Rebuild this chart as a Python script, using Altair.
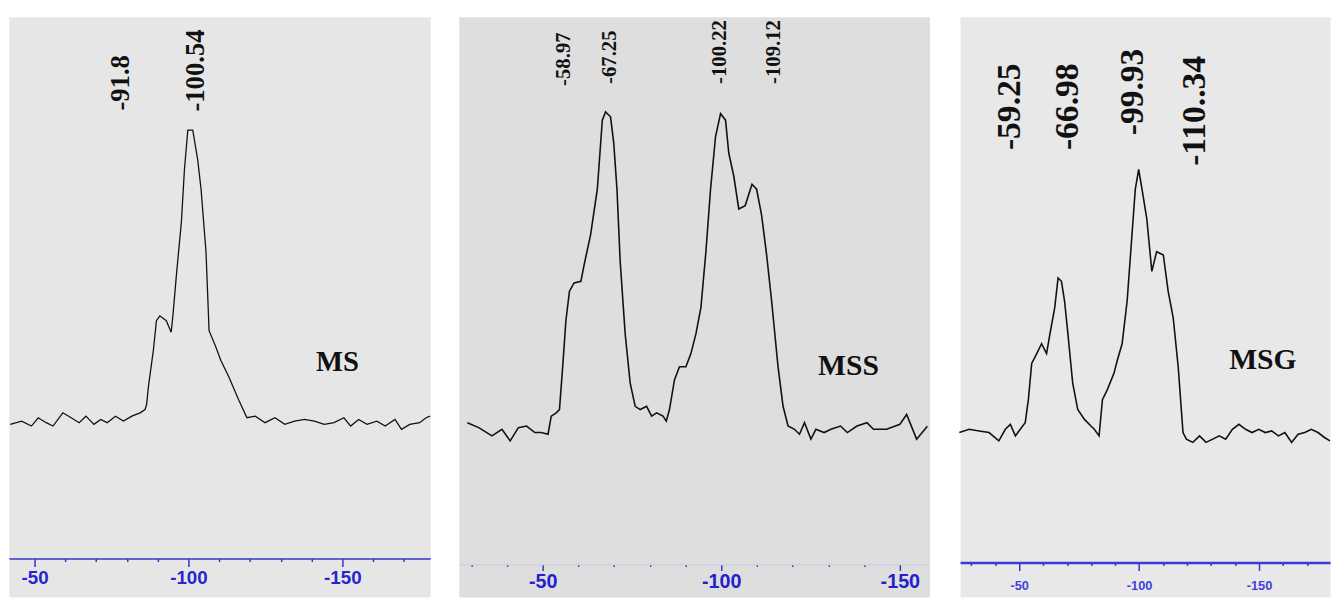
import altair as alt
import pandas as pd

# ---------------- Panel 1 : MS ----------------
ms_shift = [-42.1, -45.8, -49.0, -51.2, -53.8, -56.0, -59.2, -61.9, -64.5, -66.7, -69.3, -71.5,
            -73.6, -76.3, -78.9, -81.6, -84.3, -85.9, -86.4, -87.0, -88.6, -89.6, -90.7, -92.8,
            -94.4, -95.0, -96.1, -97.7, -98.7, -99.8, -101.4, -103.0, -104.1, -105.7, -106.7,
            -108.9, -110.5, -113.1, -116.3, -119.0, -121.7, -124.9, -128.1, -131.3, -134.5,
            -137.7, -140.9, -144.1, -147.3, -150.5, -152.7, -155.3, -158.0, -161.2, -163.9,
            -167.1, -169.2, -171.9, -175.1, -177.2, -178.5]
ms_int = [175, 178.3, 173.3, 181.7, 176.7, 173.3, 186.7, 181.7, 176.7, 183.3, 175, 180,
          176.7, 183.3, 178.3, 183.3, 186.7, 190, 195, 213.3, 250, 280, 285, 280,
          268.3, 286.7, 326.7, 380, 433.3, 473.3, 473.3, 443.3, 413.3, 350, 270,
          253.3, 240, 223.3, 200, 181.7, 183.3, 176.7, 181.7, 175, 178.3,
          180, 178.3, 175, 176.7, 181.7, 173.3, 180, 175, 178.3, 173.3,
          180, 170, 175, 176.7, 181.7, 183.3]
ms_peak_text = ["-91.8", "-100.54"]
ms_peak_x = [-78.2, -102.6]
ms_peak_y = [493, 492]

# ---------------- Panel 2 : MSS ----------------
mss_shift = [-28.9, -32.1, -35.8, -38.6, -40.9, -43.2, -45.5, -47.8, -49.6, -51.5, -52.4, -53.8,
             -54.7, -55.6, -56.5, -57.5, -58.8, -60.7, -61.6, -63.4, -65.3, -66.7, -67.6, -69.0,
             -69.9, -70.8, -71.7, -73.1, -74.5, -75.9, -77.3, -79.1, -80.5, -81.9, -83.7, -84.6,
             -85.5, -86.9, -88.3, -90.1, -91.5, -92.9, -94.3, -95.7, -97.0, -98.4, -99.8, -101.2,
             -102.1, -103.5, -104.9, -106.7, -108.6, -109.9, -111.3, -112.7, -114.1, -115.9,
             -117.3, -118.7, -120.5, -121.9, -123.3, -125.1, -126.5, -128.8, -130.7, -133.4,
             -135.3, -138.0, -140.8, -142.6, -146.3, -150.0, -151.9, -154.7, -157.7]
mss_int = [176.7, 171.7, 163.3, 170, 158.3, 171.7, 173.3, 166.7, 166.7, 165, 183.3, 186.7,
           190, 233.3, 280, 310, 318.3, 320, 336.7, 366.7, 413.3, 483.3, 491.7, 486.7,
           460, 413.3, 340, 266.7, 216.7, 193.3, 190, 193.3, 183.3, 186.7, 183.3, 178.3,
           190, 220, 233.3, 233.3, 246.7, 266.7, 293.3, 350, 413.3, 466.7, 490, 483.3,
           450, 426.7, 393.3, 396.7, 418.3, 413.3, 386.7, 346.7, 300, 233.3,
           193.3, 173.3, 170, 165, 176.7, 160, 170, 166.7, 170, 173.3,
           166.7, 173.3, 176.7, 170, 170, 175, 185, 160, 173]
mss_peak_text = ["-58.97", "-67.25", "-100.22", "-109.12"]
mss_peak_x = [-56.1, -68.8, -99.7, -114.9]
mss_peak_y = [518, 520, 520, 520]

# ---------------- Panel 3 : MSG ----------------
msg_shift = [-25.0, -29.1, -33.3, -37.4, -41.5, -44.2, -46.3, -48.4, -50.4, -52.5,
             -53.8, -55.2, -57.3, -59.3, -61.4, -62.8, -64.8, -66.2, -67.6, -68.9,
             -70.3, -72.3, -74.4, -77.2, -79.9, -81.3, -83.3, -84.7, -86.7, -89.5,
             -90.9, -92.9, -95.0, -97.0, -98.4, -99.8, -101.2, -103.2, -105.3, -107.3,
             -110.1, -112.1, -114.2, -116.3, -118.3, -119.7, -122.4, -125.2, -127.9, -130.7,
             -133.4, -136.1, -138.9, -141.6, -144.4, -147.1, -149.9, -152.6, -155.3, -158.1,
             -160.8, -163.6, -166.3, -169.1, -171.8, -174.6, -177.3, -179.6]
msg_int = [166.7, 170, 168.3, 166.7, 158.3, 170, 175, 163.3, 170, 176.7,
           200, 236.7, 246.7, 256.7, 246.7, 266.7, 293.3, 323.3, 320, 300,
           266.7, 216.7, 190, 180, 173.3, 170, 163.3, 200, 210, 226.7,
           240, 256.7, 300, 366.7, 413.3, 433.3, 413.3, 383.3, 330, 350,
           346.7, 310, 283.3, 233.3, 166.7, 160, 156.7, 163.3, 156.7, 160,
           163.3, 160, 170, 175, 170, 166.7, 170, 166.7, 168.3, 163.3,
           166.7, 156.7, 165, 166.7, 170, 166.7, 161.7, 158.3]
msg_peak_text = ["-59.25", "-66.98", "-99.93", "-110..34"]
msg_peak_x = [-46.3, -70.2, -97.7, -123.3]
msg_peak_y = [453, 453, 468, 437]

sample_names = ["MS", "MSS", "MSG"]
name_x = [-148.4, -135.6, -151.6]
name_y = [238, 234, 240]

PLOT_H = 588
BLUE = "#3434cc"


def make_axis(ticks, offset, domain_color, domain_width, tick_major, tick_minor,
              label_size, label_pad, label_color):
    return alt.Axis(
        values=ticks, orient="bottom", offset=offset, grid=False, title=None,
        domainColor=domain_color, domainWidth=domain_width,
        tickColor=BLUE, tickWidth=1.5,
        tickSize={"condition": {"test": "datum.value % 50 === 0", "value": tick_major},
                  "value": tick_minor},
        labelExpr="datum.value % 50 === 0 ? '' + datum.value : ''",
        labelFont="Liberation Sans", labelFontWeight="bold", labelFontSize=label_size,
        labelColor=label_color, labelPadding=label_pad, labelOverlap=False,
        labelFlush=False,
    )


def panel(shift, inten, dom, width, bg, line_w, axis,
          pk_x, pk_y, pk_txt, pk_size, pk_weight, name, nx, ny, name_size):
    xs = alt.Scale(domain=dom, nice=False, zero=False)
    ys = alt.Scale(domain=[0, PLOT_H], nice=False, zero=False)
    spec = pd.DataFrame({"shift": shift, "intensity": inten})
    peaks = pd.DataFrame({"shift": pk_x, "intensity": pk_y, "label": pk_txt})
    tag = pd.DataFrame({"shift": [nx], "intensity": [ny], "label": [name]})

    line = alt.Chart(spec).mark_line(color="#111111", strokeWidth=line_w).encode(
        x=alt.X("shift:Q", scale=xs, axis=axis),
        y=alt.Y("intensity:Q", scale=ys, axis=None),
    )
    ptext = alt.Chart(peaks).mark_text(
        angle=270, align="left", baseline="middle", font="Liberation Serif",
        fontSize=pk_size, fontWeight=pk_weight, color="#111111",
    ).encode(
        x=alt.X("shift:Q", scale=xs, axis=axis),
        y=alt.Y("intensity:Q", scale=ys, axis=None),
        text="label:N",
    )
    ntext = alt.Chart(tag).mark_text(
        align="center", baseline="middle", font="Liberation Serif",
        fontSize=name_size, fontWeight="bold", color="#111111",
    ).encode(
        x=alt.X("shift:Q", scale=xs, axis=axis),
        y=alt.Y("intensity:Q", scale=ys, axis=None),
        text="label:N",
    )
    return alt.layer(line, ptext, ntext).properties(
        width=width, height=PLOT_H,
        view=alt.ViewBackground(fill=bg, stroke="transparent"),
    )


ticks1 = list(range(-50, -171, -10))
ticks2 = list(range(-30, -151, -10))
ticks3 = list(range(-30, -171, -10))

ax1 = make_axis(ticks1, -39, BLUE, 1.5, 8, 3, 19, 2, "#2626cf")
ax2 = make_axis(ticks2, -33, "#c9c9e2", 1, 6, 2, 20, 1, "#2222cc")
ax3 = make_axis(ticks3, -35, "#3a3ad6", 2.5, 8, 3, 13, 9, "#4242dd")

p1 = panel(ms_shift, ms_int, [-41.67, -178.53], 427, "#e6e6e6", 1.3, ax1,
           ms_peak_x, ms_peak_y, ms_peak_text, 27, "bold",
           sample_names[0], name_x[0], name_y[0], 29)
p2 = panel(mss_shift, mss_int, [-26.52, -158.29], 477, "#dedede", 1.6, ax2,
           mss_peak_x, mss_peak_y, mss_peak_text, 21, "bold",
           sample_names[1], name_x[1], name_y[1], 30)
p3 = panel(msg_shift, msg_int, [-25.31, -179.63], 375, "#e8e8e8", 1.6, ax3,
           msg_peak_x, msg_peak_y, msg_peak_text, 34, "bold",
           sample_names[2], name_x[2], name_y[2], 30)

chart = alt.hconcat(p1, p2, p3, spacing=24).properties(
    padding={"left": 7, "top": 12, "right": 0, "bottom": 3},
    background="white",
).configure_view(stroke="transparent")

chart.save("out.html", embed_options={"renderer": "svg", "actions": False})
